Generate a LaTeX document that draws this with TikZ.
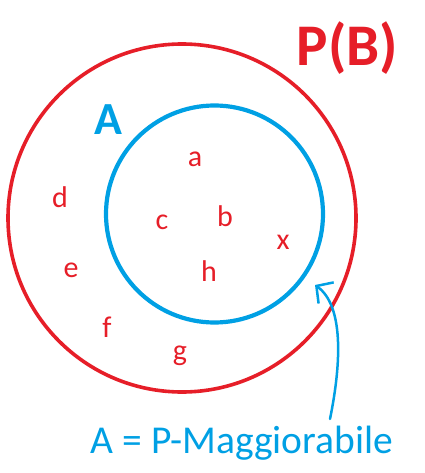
\documentclass[tikz,border=0pt]{standalone}
\usepackage{fontspec}
\setmainfont{Carlito}
\usetikzlibrary{arrows.meta}
\definecolor{pred}{RGB}{230,30,40}
\definecolor{pblue}{RGB}{0,160,228}
\tikzset{
  setcircle/.style={circle, draw, inner sep=0pt, outer sep=0pt},
  elem/.style={text=pred, anchor=base, inner sep=0pt, font=\fontsize{30}{36}\selectfont},
  biglabel/.style={anchor=base, inner sep=0pt, font=\bfseries\fontsize{#1}{#1}\selectfont},
}
\begin{document}
\begin{tikzpicture}[x=1pt,y=-1pt]
\useasboundingbox (0,0) rectangle (424,473);
\node[setcircle, draw=pred, line width=3.6pt, minimum size=348pt] (PB) at (182,218) {};
\node[setcircle, draw=pblue, line width=4.2pt, minimum size=217pt] (A) at (214.5,214) {};
\node[biglabel=59, text=pred] (PBlab) at (347.5,66) {P(B)};
\node[biglabel=46, text=pblue] (Alab) at (108,135) {A};
\node[elem] (ea) at (195,167) {a};
\node[elem] (eb) at (225,226) {b};
\node[elem] (ec) at (162,229) {c};
\node[elem] (ed) at (60,207) {d};
\node[elem] (ee) at (71,277) {e};
\node[elem] (eh) at (209,281) {h};
\node[elem] (ex) at (283,249) {x};
\node[elem] (ef) at (107,337) {f};
\node[elem] (eg) at (180,360) {g};
\node[text=pblue, anchor=base, inner sep=0pt, font=\fontsize{39.5}{44}\selectfont] (def) at (242,453) {A = P-Maggiorabile};
\coordinate (arrstart) at (330,419);
\coordinate (arrtip) at (315,285);
\draw[pblue, line width=2.5pt, line cap=round, -{Straight Barb[length=12pt,width=26pt,line width=2.5pt]}]
  (arrstart) .. controls (342,360) and (343,305) .. (arrtip);
\end{tikzpicture}
\end{document}
